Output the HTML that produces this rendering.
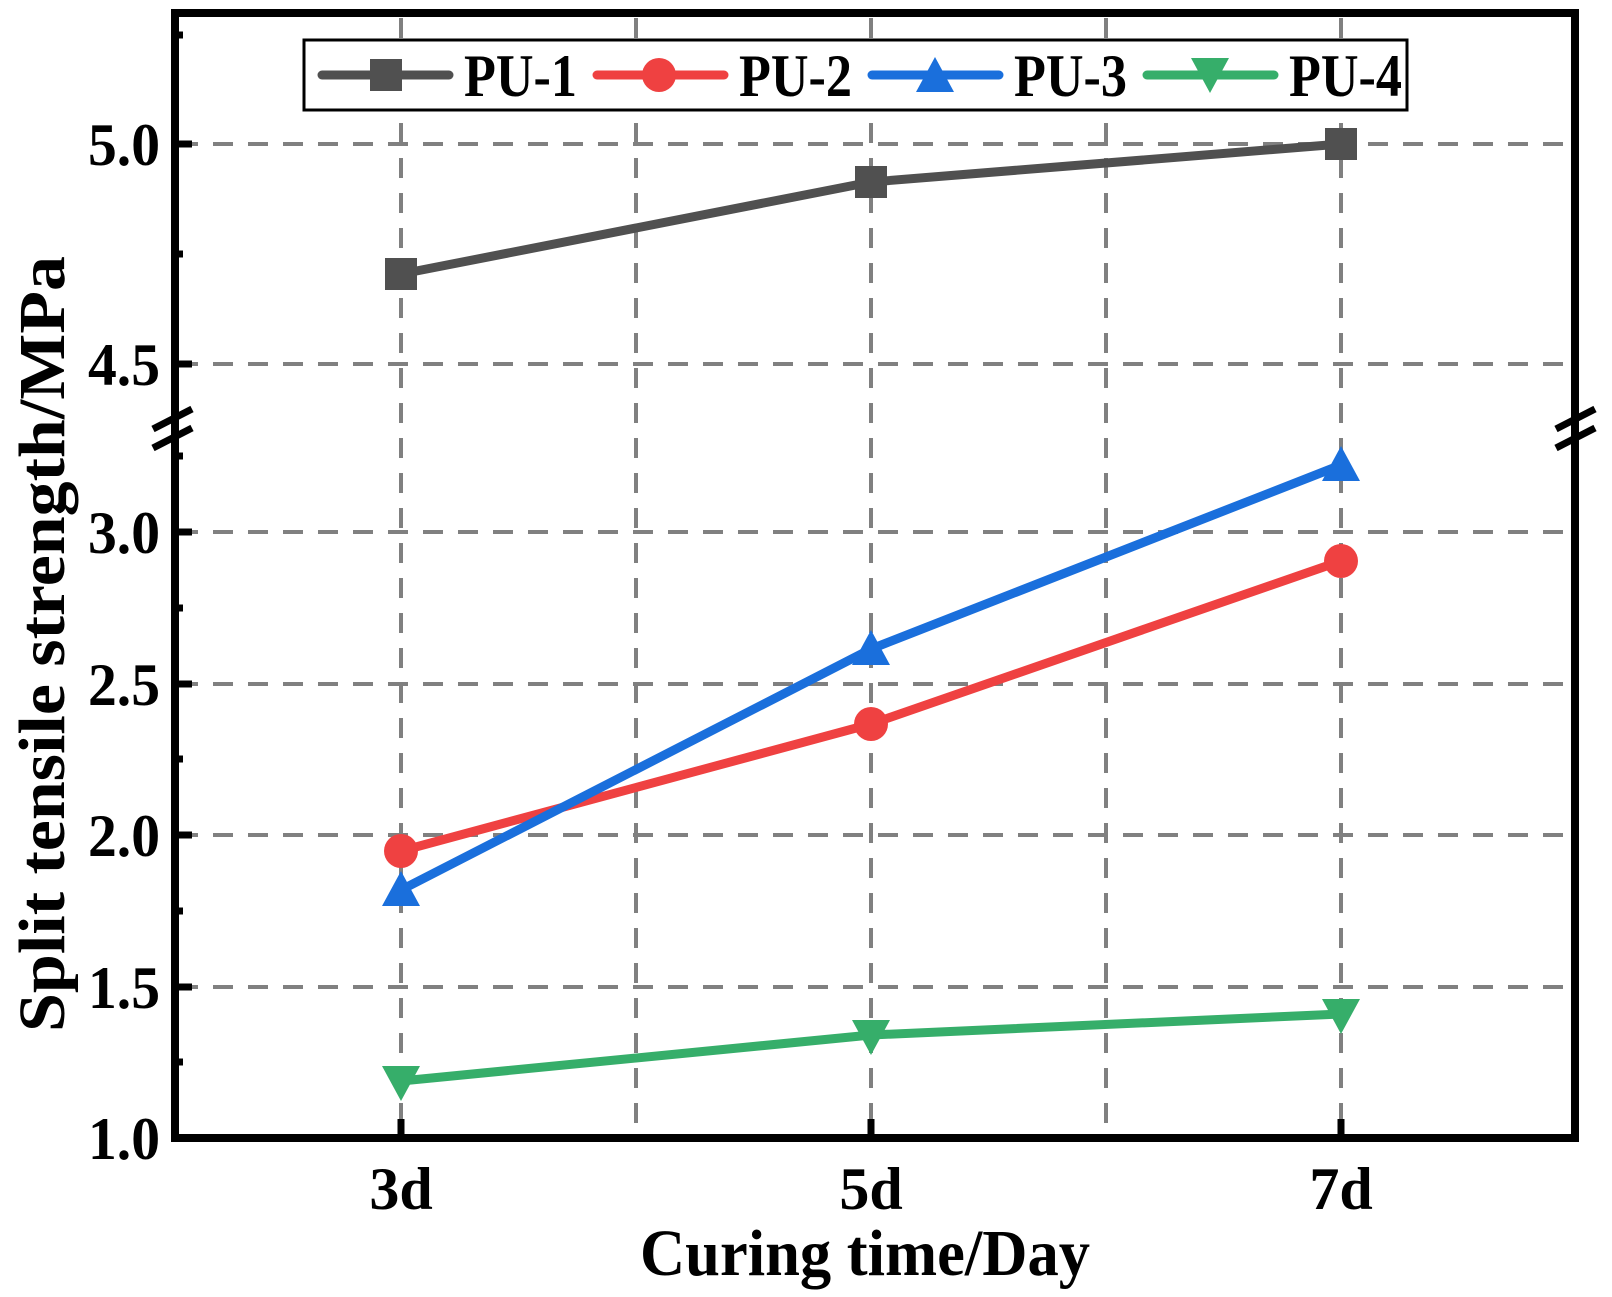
<!DOCTYPE html>
<html><head><meta charset="utf-8"><style>html,body{margin:0;padding:0;background:#fff}svg{display:block}</style></head>
<body>
<svg width="1612" height="1297" viewBox="0 0 1612 1297" xmlns="http://www.w3.org/2000/svg" font-family="'Liberation Serif',serif" font-weight="bold">
<rect width="1612" height="1297" fill="#fff"/>
<g stroke="#808080" stroke-width="4" stroke-dasharray="20,15">
<line x1="178" y1="144" x2="1572" y2="144"/>
<line x1="178" y1="364" x2="1572" y2="364"/>
<line x1="178" y1="532" x2="1572" y2="532"/>
<line x1="178" y1="684" x2="1572" y2="684"/>
<line x1="178" y1="835" x2="1572" y2="835"/>
<line x1="178" y1="987" x2="1572" y2="987"/>
<line x1="401" y1="18" x2="401" y2="1134"/>
<line x1="636" y1="18" x2="636" y2="1134"/>
<line x1="871" y1="18" x2="871" y2="1134"/>
<line x1="1106" y1="18" x2="1106" y2="1134"/>
<line x1="1341" y1="18" x2="1341" y2="1134"/>
</g>
<g stroke="#000" stroke-width="8" fill="none">
<line x1="171" y1="13" x2="1579" y2="13"/>
<line x1="171" y1="1138" x2="1579" y2="1138"/>
<line x1="175" y1="13" x2="175" y2="1142"/>
<line x1="1575" y1="13" x2="1575" y2="1142"/>
</g>
<g stroke="#000" stroke-width="7">
<line x1="175" y1="144" x2="192" y2="144"/><line x1="175" y1="364" x2="192" y2="364"/>
<line x1="175" y1="532" x2="192" y2="532"/><line x1="175" y1="684" x2="192" y2="684"/>
<line x1="175" y1="835" x2="192" y2="835"/><line x1="175" y1="987" x2="192" y2="987"/>
<line x1="175" y1="35" x2="183" y2="35"/><line x1="175" y1="254" x2="183" y2="254"/>
<line x1="175" y1="456" x2="183" y2="456"/><line x1="175" y1="608" x2="183" y2="608"/>
<line x1="175" y1="759" x2="183" y2="759"/><line x1="175" y1="911" x2="183" y2="911"/>
<line x1="175" y1="1062" x2="183" y2="1062"/>
<line x1="401" y1="1138" x2="401" y2="1119"/><line x1="871" y1="1138" x2="871" y2="1119"/><line x1="1341" y1="1138" x2="1341" y2="1119"/>
<line x1="153" y1="429" x2="192" y2="409"/><line x1="153" y1="448" x2="192" y2="428"/>
<line x1="1556" y1="429" x2="1595" y2="409"/><line x1="1556" y1="448" x2="1595" y2="428"/>
</g>
<g font-size="60" text-anchor="end" fill="#000">
<text x="160" y="165" textLength="72" lengthAdjust="spacingAndGlyphs">5.0</text>
<text x="160" y="385" textLength="72" lengthAdjust="spacingAndGlyphs">4.5</text>
<text x="160" y="553" textLength="72" lengthAdjust="spacingAndGlyphs">3.0</text>
<text x="160" y="705" textLength="72" lengthAdjust="spacingAndGlyphs">2.5</text>
<text x="160" y="856" textLength="72" lengthAdjust="spacingAndGlyphs">2.0</text>
<text x="160" y="1008" textLength="72" lengthAdjust="spacingAndGlyphs">1.5</text>
<text x="160" y="1159" textLength="72" lengthAdjust="spacingAndGlyphs">1.0</text>
</g>
<g font-size="60" text-anchor="middle" fill="#000">
<text x="401" y="1209">3d</text><text x="871" y="1209">5d</text><text x="1341" y="1209">7d</text>
</g>
<text x="865" y="1275" font-size="66" text-anchor="middle" textLength="450" lengthAdjust="spacingAndGlyphs">Curing time/Day</text>
<text transform="translate(64,644) rotate(-90)" font-size="66" text-anchor="middle" textLength="776" lengthAdjust="spacingAndGlyphs">Split tensile strength/MPa</text>
<g stroke-width="9" fill="none" stroke-linejoin="round">
<polyline stroke="#505050" points="401,274 871,182 1341,144"/>
<polyline stroke="#ef4141" points="401,851 871,724 1341,561"/>
<polyline stroke="#1a6fdc" points="401,890 871,649 1341,465"/>
<polyline stroke="#36ae6a" points="401,1081 871,1035 1341,1014"/>
</g>
<g fill="#505050"><rect x="385" y="258" width="32" height="32"/><rect x="855" y="166" width="32" height="32"/><rect x="1325" y="128" width="32" height="32"/></g>
<g fill="#ef4141"><circle cx="401" cy="851" r="17"/><circle cx="871" cy="724" r="17"/><circle cx="1341" cy="561" r="17"/></g>
<g fill="#1a6fdc"><polygon points="401,871 382,906 420,906"/><polygon points="871,630 852,665 890,665"/><polygon points="1341,446 1322,481 1360,481"/></g>
<g fill="#36ae6a"><polygon points="382,1066 420,1066 401,1101"/><polygon points="852,1020 890,1020 871,1055"/><polygon points="1322,999 1360,999 1341,1034"/></g>
<rect x="304" y="40" width="1103" height="70" fill="#fff" stroke="#000" stroke-width="3"/>
<g stroke-width="9" stroke-linecap="round">
<line x1="322" y1="75" x2="449" y2="75" stroke="#505050"/>
<line x1="597" y1="75" x2="724" y2="75" stroke="#ef4141"/>
<line x1="872" y1="75" x2="999" y2="75" stroke="#1a6fdc"/>
<line x1="1147" y1="75" x2="1274" y2="75" stroke="#36ae6a"/>
</g>
<rect x="370" y="59" width="32" height="32" fill="#505050"/>
<circle cx="659" cy="75" r="17" fill="#ef4141"/>
<polygon points="935,57 916,92 954,92" fill="#1a6fdc"/>
<polygon points="1191,58 1229,58 1210,93" fill="#36ae6a"/>
<g font-size="60" fill="#000">
<text x="464" y="96" textLength="113" lengthAdjust="spacingAndGlyphs">PU-1</text>
<text x="739" y="96" textLength="113" lengthAdjust="spacingAndGlyphs">PU-2</text>
<text x="1014" y="96" textLength="113" lengthAdjust="spacingAndGlyphs">PU-3</text>
<text x="1289" y="96" textLength="113" lengthAdjust="spacingAndGlyphs">PU-4</text>
</g>
</svg>
</body></html>
